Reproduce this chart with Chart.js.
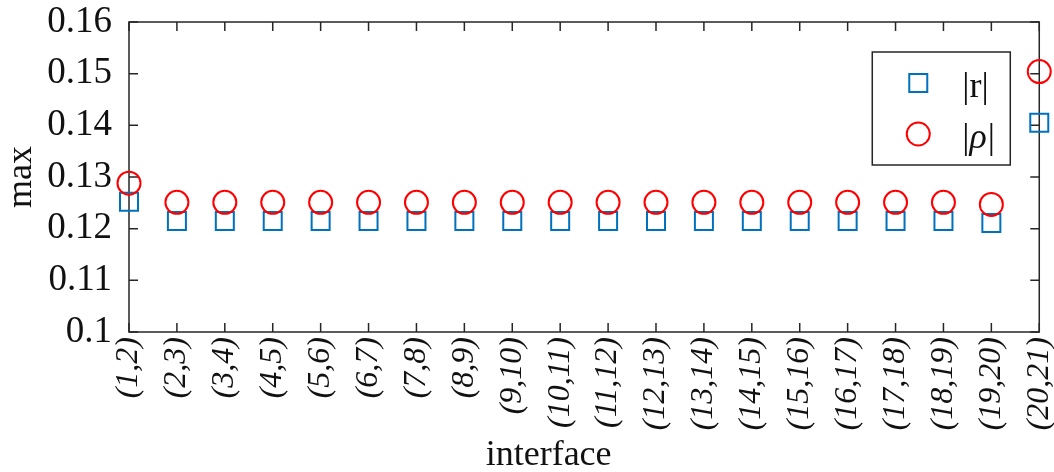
<!DOCTYPE html>
<html>
<head>
<meta charset="utf-8">
<script src="https://cdn.jsdelivr.net/npm/chart.js@4/dist/chart.umd.min.js"></script>
<style>
  body { margin: 0; background: #fff; }
  canvas { display: block; }
</style>
</head>
<body>
<canvas id="chart" width="1054" height="472"></canvas>
<script>
const interfaces = [
  "(1,2)", "(2,3)", "(3,4)", "(4,5)", "(5,6)", "(6,7)", "(7,8)", "(8,9)", "(9,10)", "(10,11)",
  "(11,12)", "(12,13)", "(13,14)", "(14,15)", "(15,16)", "(16,17)", "(17,18)", "(18,19)", "(19,20)", "(20,21)",
];
const maxR = [
  0.1252, 0.1215, 0.1215, 0.1215, 0.1215, 0.1215, 0.1215, 0.1215, 0.1215, 0.1215,
  0.1215, 0.1215, 0.1215, 0.1215, 0.1215, 0.1215, 0.1215, 0.1215, 0.1211, 0.1405,
];
const maxRho = [
  0.1288, 0.1251, 0.1251, 0.1251, 0.1251, 0.1251, 0.1251, 0.1251, 0.1251, 0.1251,
  0.1251, 0.1251, 0.1251, 0.1251, 0.1251, 0.1251, 0.1251, 0.1251, 0.1247, 0.1504,
];
const yMin = 0.1;
const yMax = 0.16;
const yStep = 0.01;

const SERIF = "'Liberation Serif', 'Times New Roman', serif";
const INK = "#262626";
const BLUE = "#0072BD";
const RED = "#FF0000";

// box round the axes with ticks pointing inwards, like matlab
const frame = {
  id: "frame",
  beforeDatasetsDraw(chart) {
    const { ctx, chartArea: a, scales: { x, y } } = chart;
    ctx.save();
    ctx.strokeStyle = INK;
    ctx.lineWidth = 1.5;
    ctx.strokeRect(a.left, a.top, a.width, a.height);
    ctx.beginPath();
    x.ticks.forEach((t, i) => {
      const px = x.getPixelForTick(i);
      ctx.moveTo(px, a.bottom);
      ctx.lineTo(px, a.bottom - 9);
      ctx.moveTo(px, a.top);
      ctx.lineTo(px, a.top + 9);
    });
    y.ticks.forEach((t, i) => {
      const py = y.getPixelForTick(i);
      ctx.moveTo(a.left, py);
      ctx.lineTo(a.left + 9, py);
      ctx.moveTo(a.right, py);
      ctx.lineTo(a.right - 9, py);
    });
    ctx.stroke();
    ctx.restore();
  },
  afterDraw(chart) {
    const { ctx, chartArea: a } = chart;
    ctx.save();
    // x label
    ctx.fillStyle = "#111";
    ctx.font = `36px ${SERIF}`;
    ctx.textAlign = "center";
    ctx.textBaseline = "alphabetic";
    ctx.fillText("interface", a.left + a.width * 0.461, chart.height - 7);

    // legend box
    const bx = a.right - 167, by = a.top + 30, bw = 138, bh = 113;
    ctx.fillStyle = "#fff";
    ctx.fillRect(bx, by, bw, bh);
    ctx.strokeStyle = INK;
    ctx.lineWidth = 1.5;
    ctx.strokeRect(bx, by, bw, bh);

    const mx = bx + 46;
    const tx = bx + 90;
    ctx.lineWidth = 2;
    // |r|
    ctx.strokeStyle = BLUE;
    ctx.strokeRect(mx - 9, by + 31 - 9, 18, 18);
    ctx.fillStyle = "#111";
    ctx.textAlign = "left";
    ctx.textBaseline = "middle";
    ctx.font = `36px ${SERIF}`;
    let cx = tx;
    ctx.fillText("|r|", cx, by + 36);
    // |ρ|
    ctx.strokeStyle = RED;
    ctx.beginPath();
    ctx.arc(mx, by + 82, 11.5, 0, Math.PI * 2);
    ctx.stroke();
    cx = tx;
    ctx.font = `36px ${SERIF}`;
    ctx.fillText("|", cx, by + 87);
    cx += ctx.measureText("|").width;
    ctx.font = `italic 36px ${SERIF}`;
    ctx.fillText("ρ", cx, by + 87);
    cx += ctx.measureText("ρ").width + 1;
    ctx.font = `36px ${SERIF}`;
    ctx.fillText("|", cx, by + 87);
    ctx.restore();
  },
};

new Chart(document.getElementById("chart"), {
  type: "line",
  data: {
    labels: interfaces,
    datasets: [
      {
        label: "|r|",
        data: maxR,
        showLine: false,
        pointStyle: "rect",
        pointRadius: 12.73,
        pointHoverRadius: 12.73,
        pointBorderWidth: 2,
        pointBorderColor: BLUE,
        pointBackgroundColor: "rgba(0,0,0,0)",
        clip: false,
        order: 1,
      },
      {
        label: "|ρ|",
        data: maxRho,
        showLine: false,
        pointStyle: "circle",
        pointRadius: 11.5,
        pointHoverRadius: 11.5,
        pointBorderWidth: 2,
        pointBorderColor: RED,
        pointBackgroundColor: "rgba(0,0,0,0)",
        clip: false,
        order: 0,
      },
    ],
  },
  options: {
    animation: false,
    responsive: false,
    devicePixelRatio: 1,
    events: [],
    layout: { padding: 0 },
    plugins: {
      legend: { display: false },
      tooltip: { enabled: false },
    },
    scales: {
      x: {
        type: "category",
        offset: false,
        grid: { display: false, drawTicks: false },
        border: { display: false },
        ticks: {
          autoSkip: false,
          minRotation: 90,
          maxRotation: 90,
          padding: 5,
          color: "#111",
          font: { family: SERIF, size: 32, style: "italic" },
        },
        afterFit(scale) {
          scale.height = 140;
          scale.paddingLeft = 0;
          scale.paddingRight = 14;
        },
      },
      y: {
        min: yMin,
        max: yMax,
        grid: { display: false, drawTicks: false },
        border: { display: false },
        ticks: {
          stepSize: yStep,
          padding: 17,
          color: "#111",
          font: { family: SERIF, size: 37 },
          callback: (v) => String(+v.toFixed(2)),
        },
        title: {
          display: true,
          text: "max",
          color: "#111",
          padding: 0,
          font: { family: SERIF, size: 36 },
        },
        afterFit(scale) {
          scale.width = 129;
          scale.paddingTop = 22;
          scale.paddingBottom = 0;
        },
      },
    },
  },
  plugins: [frame],
});
</script>
</body>
</html>
